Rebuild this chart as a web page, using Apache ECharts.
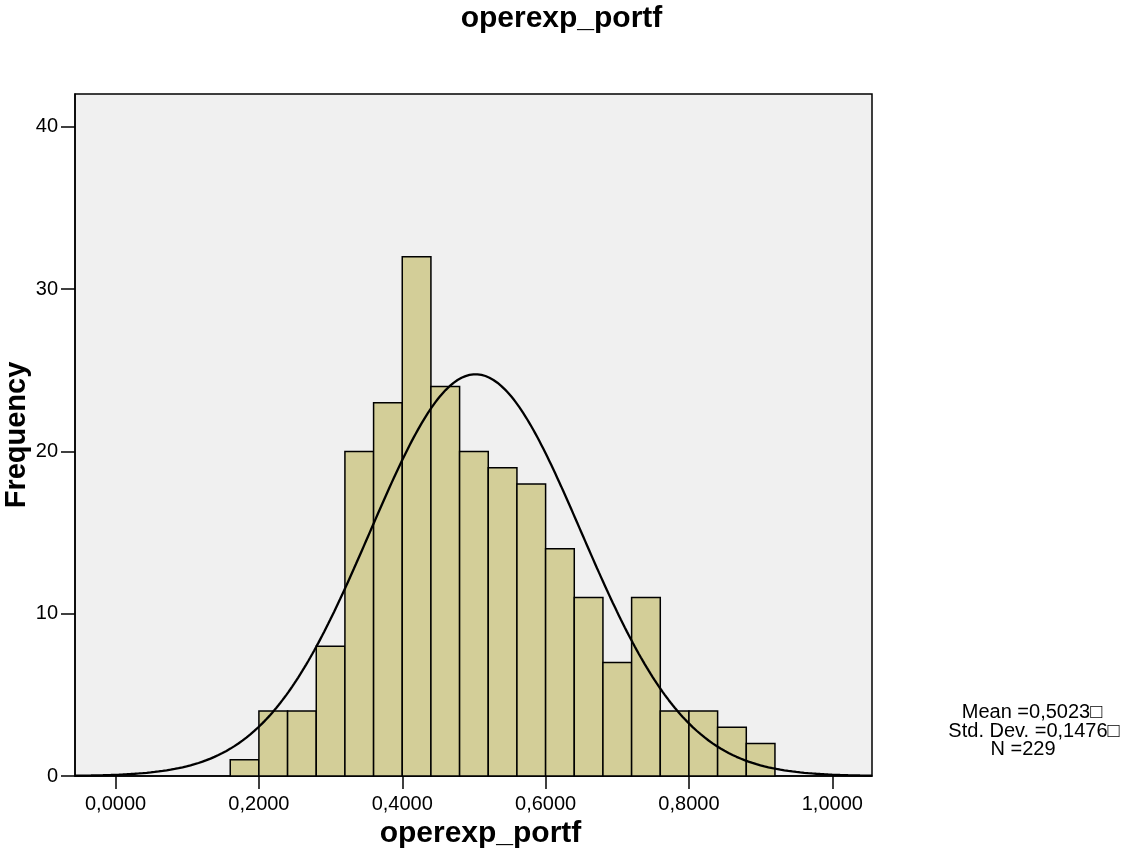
<!DOCTYPE html>
<html>
<head>
<meta charset="utf-8">
<title>operexp_portf</title>
<script src="https://cdn.jsdelivr.net/npm/echarts@6/dist/echarts.min.js"></script>
<style>
  html, body { margin: 0; padding: 0; background: #ffffff; }
  #chart { width: 1123px; height: 858px; }
</style>
</head>
<body>
<div id="chart"></div>
<script>
// Histogram bins (lower edge of each 0.04-wide bin) and their frequencies
const binLower = [0.16, 0.20, 0.24, 0.28, 0.32, 0.36, 0.40, 0.44, 0.48, 0.52,
                  0.56, 0.60, 0.64, 0.68, 0.72, 0.76, 0.80, 0.84, 0.88];
const binCounts = [1, 4, 4, 8, 20, 23, 32, 24, 20, 19,
                   18, 14, 11, 7, 11, 4, 4, 3, 2];
const binWidth = 0.04;

// Summary statistics shown beside the plot
const statMean = 0.5023;
const statStdDev = 0.1476;
const statN = 229;

// Axis tick values
const xTicks = [0, 0.2, 0.4, 0.6, 0.8, 1.0];
const yTicks = [0, 10, 20, 30, 40];
const xMin = -0.0566, xMax = 1.0554;
const yMin = 0, yMax = 42.03;

const FONT = "'Liberation Sans', Arial, Helvetica, sans-serif";

const barData = binLower.map((lo, i) => [lo, lo + binWidth, binCounts[i]]);

// Fitted normal curve scaled to the histogram (N * bin width * density)
const curveData = [];
const steps = 400;
for (let i = 0; i <= steps; i++) {
  const x = xMin + (xMax - xMin) * i / steps;
  const z = (x - statMean) / statStdDev;
  const y = statN * binWidth * Math.exp(-0.5 * z * z) / (statStdDev * Math.sqrt(2 * Math.PI));
  curveData.push([x, y]);
}

const fmtComma = v => v.toFixed(4).replace('.', ',');

const chart = echarts.init(document.getElementById('chart'), null, { renderer: 'canvas' });
chart.setOption({
  animation: false,
  backgroundColor: '#ffffff',
  title: {
    text: 'operexp_portf',
    left: 'center',
    top: 4,
    padding: [0, 0, 0, 17],
    textStyle: { fontFamily: FONT, fontSize: 30, fontWeight: 'bold', color: '#000' }
  },
  grid: {
    left: 75, right: 251, top: 94, bottom: 82,
    containLabel: false,
    outerBoundsMode: 'none',
    show: true,
    backgroundColor: '#F0F0F0',
    borderColor: '#000',
    borderWidth: 1.5
  },
  xAxis: {
    type: 'value',
    min: xMin, max: xMax,
    name: 'operexp_portf',
    nameLocation: 'middle',
    nameGap: 37,
    nameTextStyle: { fontFamily: FONT, fontSize: 30, fontWeight: 'bold', color: '#000', padding: [0, 0, 0, 14] },
    axisLine: { show: true, onZero: false, lineStyle: { color: '#000', width: 1.5 } },
    axisTick: { show: true, customValues: xTicks, length: 13, lineStyle: { color: '#000', width: 1.5 } },
    axisLabel: { customValues: xTicks, formatter: fmtComma, margin: 18,
                 fontFamily: FONT, fontSize: 20, color: '#000' },
    splitLine: { show: false }
  },
  yAxis: {
    type: 'value',
    min: yMin, max: yMax,
    name: 'Frequency',
    nameLocation: 'middle',
    nameRotate: 90,
    nameGap: 44,
    nameMoveOverlap: false,
    nameTextStyle: { fontFamily: FONT, fontSize: 29, fontWeight: 'bold', color: '#000' },
    axisLine: { show: true, onZero: false, lineStyle: { color: '#000', width: 1.5 } },
    axisTick: { show: true, customValues: yTicks, length: 14, lineStyle: { color: '#000', width: 1.5 } },
    axisLabel: { customValues: yTicks, margin: 17,
                 fontFamily: FONT, fontSize: 20, color: '#000' },
    splitLine: { show: false }
  },
  series: [
    {
      type: 'custom',
      name: 'bins',
      data: barData,
      renderItem: function (params, api) {
        const p0 = api.coord([api.value(0), api.value(2)]);
        const p1 = api.coord([api.value(1), 0]);
        return {
          type: 'rect',
          shape: { x: p0[0], y: p0[1], width: p1[0] - p0[0], height: p1[1] - p0[1] },
          style: { fill: '#D3CE98', stroke: '#000', lineWidth: 1.5 }
        };
      },
      encode: { x: [0, 1], y: 2 },
      z: 2
    },
    {
      type: 'line',
      name: 'normal',
      data: curveData,
      showSymbol: false,
      smooth: false,
      lineStyle: { color: '#000', width: 2.3 },
      z: 3
    }
  ],
  graphic: [
    { type: 'text', x: 1032, y: 712,
      style: { text: 'Mean =' + fmtComma(statMean) + '\u25A1', fontFamily: FONT, fontSize: 20,
               fill: '#000', textAlign: 'center', textVerticalAlign: 'middle' } },
    { type: 'text', x: 1034, y: 731,
      style: { text: 'Std. Dev. =' + fmtComma(statStdDev) + '\u25A1', fontFamily: FONT, fontSize: 20,
               fill: '#000', textAlign: 'center', textVerticalAlign: 'middle' } },
    { type: 'text', x: 1023, y: 749,
      style: { text: 'N =' + statN, fontFamily: FONT, fontSize: 20,
               fill: '#000', textAlign: 'center', textVerticalAlign: 'middle' } }
  ]
});
</script>
</body>
</html>
